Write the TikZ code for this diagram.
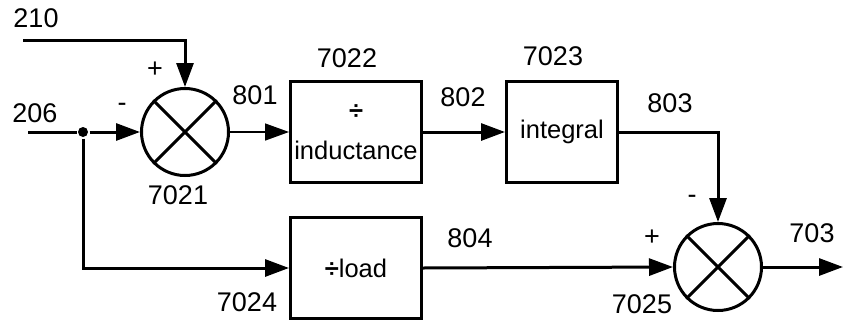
\documentclass[tikz,border=0pt]{standalone}
\usepackage{fontspec}
\setmainfont{Liberation Sans}
\usetikzlibrary{arrows.meta}
\begin{document}
\begin{tikzpicture}[x=1pt, y=-1pt, line width=3pt, font=\fontsize{27}{32}\selectfont,
  >={Triangle[length=24pt, width=17pt]},
  sum/.style={circle, draw, minimum size=87pt, inner sep=0pt},
  block/.style={draw, minimum width=131pt, minimum height=101pt, align=center,
    font=\fontsize{25.5}{40}\selectfont},
  junct/.style={circle, fill, minimum size=10pt, inner sep=0pt},
  lbl/.style={inner sep=0pt}]
\useasboundingbox (0,0) rectangle (843,327);
\coordinate (in210) at (23,40);
\coordinate (in206) at (28,132);
\coordinate (out703) at (843,267);
\node[sum] (sum1) at (185,132){};
\draw[](sum1.45) -- (sum1.225);
\draw[](sum1.135) -- (sum1.315);
\node[sum] (sum2) at (718,267){};
\draw[](sum2.45) -- (sum2.225);
\draw[](sum2.135) -- (sum2.315);
\node[block] (divind) at (356,132){\textbf{÷}\\inductance};
\node[block, minimum width=111pt] (integ) at (562,132){integral};
\node[block] (divload) at (356,268){\textbf{÷}load};
\node[junct] (j1) at (83,132){};
\draw[->](in210) -| (sum1.north);
\draw[](in206) -- (j1);
\draw[->](j1) -- (sum1.west);
\draw[->](j1) |- (divload.west);
\draw[->, line width=1.5pt](sum1.east) -- (divind.west);
\draw[->](divind.east) -- (integ.west);
\draw[->](integ.east) -| (sum2.north);
\draw[->](divload.east) -- (sum2.west);
\draw[->](sum2.east) -- (out703);
\node[lbl] (t210) at (36,18){210};
\node[lbl] (t206) at (35,113){206};
\node[lbl] (plus1) at (155,70){+};
\node[lbl] (minus1) at (122,107){-};
\node[lbl] (t7021) at (178,195){7021};
\node[lbl] (t801) at (255,95){801};
\node[lbl] (t7022) at (347,58){7022};
\node[lbl] (t802) at (463,97){802};
\node[lbl] (t7023) at (553,56){7023};
\node[lbl] (t803) at (670,103){803};
\node[lbl] (minus2) at (692,199){-};
\node[lbl] (plus2) at (652,238){+};
\node[lbl] (t804) at (470,238){804};
\node[lbl] (t7025) at (642,304){7025};
\node[lbl] (t703) at (812,233){703};
\node[lbl] (t7024) at (247,302){7024};

\end{tikzpicture}
\end{document}
